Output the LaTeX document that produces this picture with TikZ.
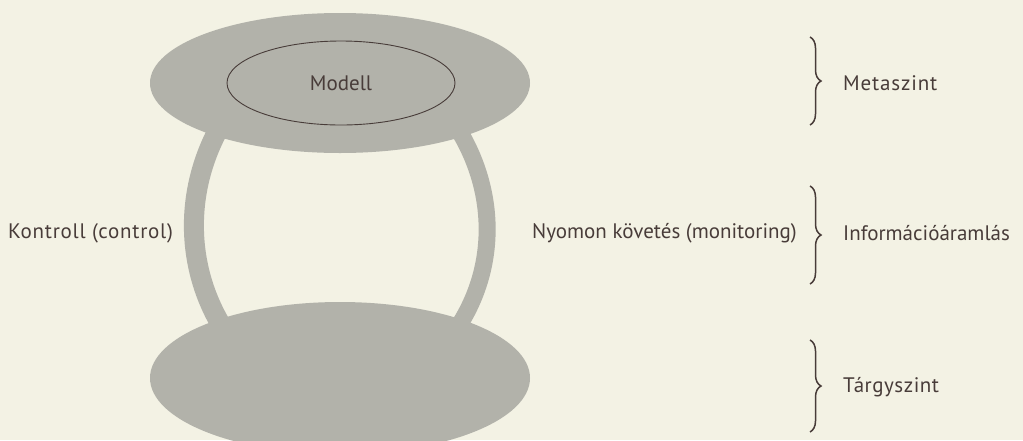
\documentclass[tikz,border=0pt]{standalone}
\usepackage{fontspec}
\setmainfont{PT Sans}
\usetikzlibrary{shapes.geometric,decorations.pathreplacing,backgrounds}
\definecolor{paper}{RGB}{243,242,228}
\definecolor{disc}{RGB}{178,178,170}
\definecolor{ink}{RGB}{72,60,57}
\begin{document}
\begin{tikzpicture}[x=1pt,y=-1pt,
  disk/.style={ellipse,fill=disc,draw=none,inner sep=0pt},
  band/.style={draw=disc,line cap=butt},
  txt/.style={font=\fontsize{21}{25}\selectfont,text=ink,inner sep=0pt},
  lbl/.style={txt,anchor=west},
  brc/.style={draw=ink,line width=1.5pt,decorate,decoration={brace,amplitude=11pt}}]
\useasboundingbox (0,0) rectangle (1023,440);
\node[disk,minimum width=380pt,minimum height=140pt] (top) at (340,83) {};
\node[disk,minimum width=380pt,minimum height=152pt] (bot) at (340,378) {};
\node[ellipse,draw=ink,line width=0.9pt,minimum width=228pt,minimum height=84pt,inner sep=0pt,txt] (model) at (341,83) {Modell};
\begin{pgfonlayer}{background}
\fill[paper] (0,0) rectangle (1023,440);
\draw[band,line width=20pt] ([yshift=15pt]top.205) .. controls (183,190) and (185,270) .. ([yshift=-15pt]bot.152);
\draw[band,line width=17pt] ([yshift=15pt]top.334) .. controls (498,190) and (498,270) .. ([yshift=-15pt]bot.28);
\end{pgfonlayer}
\node[lbl,font=\addfontfeature{LetterSpace=3.5}\fontsize{21}{25}\selectfont] (ctrl) at (8,233) {Kontroll (control)};
\node[txt,anchor=east] (mon) at (797,233) {Nyomon követés (monitoring)};
\node[lbl,font=\addfontfeature{LetterSpace=4}\fontsize{21}{25}\selectfont] (meta) at (843,83) {Metaszint};
\node[lbl] (info) at (843,233) {Információáramlás};
\node[lbl,font=\addfontfeature{LetterSpace=2.5}\fontsize{21}{25}\selectfont] (targy) at (843,387) {Tárgyszint};
\coordinate (b1t) at (810,37);  \coordinate (b1b) at (810,125);
\coordinate (b2t) at (810,186); \coordinate (b2b) at (810,284);
\coordinate (b3t) at (810,340); \coordinate (b3b) at (810,432);
\draw[brc] (b1t) -- (b1b);
\draw[brc] (b2t) -- (b2b);
\draw[brc] (b3t) -- (b3b);
\end{tikzpicture}
\end{document}
